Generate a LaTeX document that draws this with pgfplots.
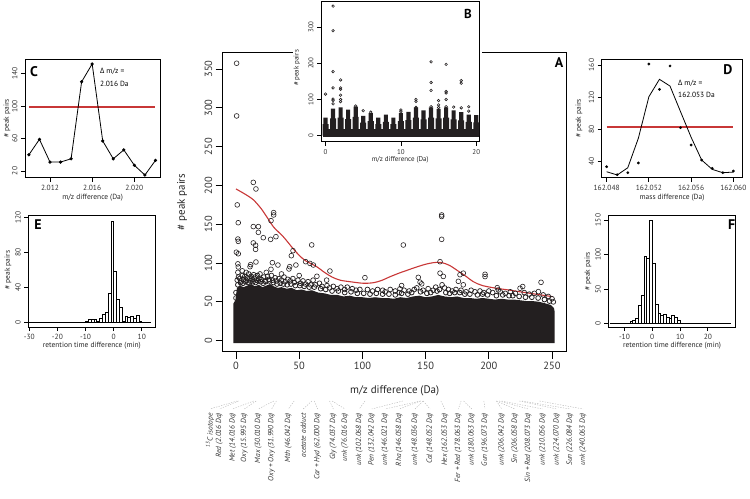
\documentclass[border=0pt]{standalone}
\usepackage{fontspec}
\setmainfont{PT Sans}
\newfontfamily\grk{Open Sans}
\usepackage{pgfplots}
\pgfplotsset{compat=1.18}
\definecolor{loess}{RGB}{200,55,55}
\definecolor{ink}{RGB}{35,31,32}
\pgfplotsset{
  rstyle/.style={scale only axis, tick align=outside, tick pos=left,
    axis line style={line width=0.8bp}, major tick style={line width=0.8bp, black},
    tick label style={font=\fontsize{7.5}{8}\selectfont, text=black!80},
    yticklabel style={rotate=90, anchor=south},
    /pgf/number format/assume math mode=true,
    label style={font=\fontsize{7.5}{8}\selectfont, text=black!85},
    xlabel style={anchor=center}, ylabel style={anchor=center, rotate=0},
    major tick length=4bp},
  lead/.style={draw=gray!60, dash pattern=on 1.3bp off 1.3bp, line width=0.4bp},
}
\newcommand{\fs}[1]{\fontsize{#1}{#1}\selectfont}
\begin{document}
\begin{tikzpicture}
\useasboundingbox (0,0) rectangle (750bp,-499bp);

% ---------- A: all m/z differences
\begin{axis}[rstyle, name=A, at={(222.7bp,-52.3bp)}, anchor=north west,
  width=344bp, height=299.4bp, clip=false,
  xmin=-10.5, xmax=261.6, ymin=-14.2, ymax=371.6,
  xtick={0,50,...,250}, ytick={0,50,...,350},
  major tick length=7bp, axis line style={line width=1bp},
  tick label style={font=\fs{10.5}},
  label style={font=\fs{11}},
  xlabel={m/z difference (Da)}, ylabel={\# peak pairs},
  xlabel style={at={(axis description cs:0.5,-0.131)}},
  ylabel style={at={(axis description cs:-0.118,0.5)}}]
% dense bulk of peak pairs
\addplot[fill=ink, draw=none] coordinates {
  (-2,-3)(-2,48)(-0.5,52)(0.8,68)(3,71)(6,69)(9,71)(12,73)(15,70)(18,72)(21,69)
  (24,71)(27,73)(30,70)(33,68)(36,69)(40,67)(44,68)(48,65)(52,66)(56,64)(60,65)
  (65,62)(70,61)(75,59)(80,59)(85,57)(90,58)(95,56)(100,56)(105,55)(110,56)
  (115,55)(120,55)(125,54)(130,56)(135,55)(140,57)(145,58)(150,56)(155,57)
  (160,59)(165,57)(170,56)(175,57)(180,55)(185,55)(190,54)(195,55)(200,54)
  (205,53)(210,54)(215,53)(220,53)(225,52)(230,51)(235,51)(240,50)(245,48)
  (249,46)(251.5,42)(252,38)(252,-3)};
% fringe of the bulk
\addplot[only marks, mark=o, mark size=2.4bp, mark options={line width=0.8bp, draw=ink}] coordinates {
  (1.5,72)(3.5,75)(5.5,74)(7.5,76)(9.5,75)(11.5,77)(13.5,76)(15.5,75)(17.5,77)(19.5,76)
  (21.5,74)(23.5,76)(26.5,77)(29.5,75)(32.5,73)(35,74)(37.5,73)(40.5,72)(43.5,73)(47,71)
  (50.5,71)(54,70)(58,69)(62,69)(67,67)(71,66)(76,64)(81,64)(86,62)(91,63)(96,61)
  (101,61)(106,60)(111,61)(116,60)(121,60)(126,59)(131,61)(136,60)(139,62)(146,63)
  (151,61)(154,62)(159,64)(161,66)(166,62)(169,61)(173,62)(177,62)(181,60)(185,60)
  (191,59)(195,60)(199,59)(206,58)(211,59)(216,58)(219,58)(224,57)(229,56)(234,56)
  (239,55)(244,53)(248,51)};
\addplot[only marks, mark=o, mark size=2.4bp, mark options={line width=0.7bp, draw=ink}] coordinates {
  (0,55)(0,62)(1,78)(2,82)(3,80)(4,77)(5,84)(6,79)(7,83)(8,78)(9,81)(10,86)(11,80)
  (12,83)(13,79)(14,85)(15,82)(16,78)(17,84)(18,80)(19,86)(20,79)(22,82)(23,77)
  (25,83)(26,79)(28,84)(29,78)(31,81)(32,77)(34,80)(36,78)(38,82)(39,76)(41,79)
  (43,77)(45,80)(46,75)(49,78)(51,74)(53,77)(55,73)(57,76)(59,72)(61,78)(63,72)
  (66,74)(68,70)(72,71)(74,68)(77,70)(80,67)(83,69)(86,66)(88,69)(92,67)(95,65)
  (98,66)(104,66)(108,64)(112,66)(116,65)(118,63)(122,66)(126,64)(129,62)(133,65)
  (137,64)(141,66)(143,68)(148,65)(152,67)(156,65)(158,69)(163,72)(165,68)(168,66)
  (171,64)(174,66)(178,65)(182,63)(186,65)(189,63)(193,64)(196,62)(200,64)(203,62)
  (209,63)(213,61)(217,63)(221,61)(228,62)(232,60)(236,61)(243,59)(247,57)(250,54)(251,50)};
% outlying peak pairs
\addplot[only marks, mark=o, mark size=2.4bp, mark options={line width=0.6bp, draw=ink}] coordinates {
  (0.5,357.5)(0.5,289.6)(1,175)(1.8,152)(1.5,131)(1.8,128)(0.3,114)(1.8,112)(1.5,99)
  (1.8,95)(1.5,88)(13.7,204)(15.8,195.5)(13.7,147)(17.7,147)(17.7,139.6)(13.7,126)
  (15.5,123)(15.5,117.7)(21.6,132.7)(15.8,101.4)(11.6,98)(11.1,95.4)(27.7,154.7)
  (29.8,165)(29.8,162)(27.4,130.6)(31.6,134)(28.8,100.5)(27.7,92)(33.2,97.5)(45.1,116)
  (43.8,109.5)(42.5,95.4)(41.9,92.4)(47.4,97.5)(55.1,101.8)(58.5,99.6)(61.2,97.5)
  (59.9,123.4)(74.3,89.8)(71.7,78)(102,81.2)(5,90)(8,88)(24,88)(36,86)(50,84)(64,83)
  (162.7,162)(162.7,160)(162.7,130.6)(132.4,123.3)(161.4,101.8)(161.4,87)(164,82.8)
  (144.2,81.6)(145.6,75.4)(146.9,73.2)(131,71)(129.7,66.8)(179.8,87)(177.2,85)
  (175.9,76.5)(179.8,72)(197,85.6)(197,82.6)(206.7,68.3)(207.5,65.3)(226.8,69.8)
  (224.7,67.6)(241.3,75.2)(239.2,63.2)};
% loess fit
\addplot[draw=loess, line width=1.1bp, smooth] coordinates {
  (0,195.5)(7,189)(13.7,181.6)(20,170)(25,158)(30,146)(37.4,134)(45,119)(50,110)
  (55,103)(63.8,95.4)(70,88)(76,82)(82.3,78)(90.2,76)(100.7,74)(108.6,74.7)(115,77.5)
  (122,82.5)(129.7,87.5)(135,90.5)(142,94.5)(150,98.5)(156,100.5)(161.4,101)(166,99)
  (170,96)(174.6,91)(181,84)(187.8,76)(195,71)(206.1,67.5)(215,65.5)(224.7,63)
  (237,60)(250.5,56.7)};
% leaders to the annotated mass differences
\addplot[lead] coordinates {(1.003,-77.7)(-20.6,-88)};
\addplot[lead] coordinates {(2.016,-77.7)(-13.2,-88)};
\addplot[lead] coordinates {(14.016,-77.7)(-2.6,-88)};
\addplot[lead] coordinates {(15.995,-77.7)(6.6,-88)};
\addplot[lead] coordinates {(30.010,-77.7)(17.6,-88)};
\addplot[lead] coordinates {(31.990,-77.7)(28.2,-88)};
\addplot[lead] coordinates {(46.042,-77.7)(41.4,-88)};
\addplot[lead] coordinates {(60.021,-77.7)(53.2,-88)};
\addplot[lead] coordinates {(62.000,-77.7)(64.6,-88)};
\addplot[lead] coordinates {(74.037,-77.7)(77.0,-88)};
\addplot[lead] coordinates {(76.016,-77.7)(86.2,-88)};
\addplot[lead] coordinates {(102.068,-77.7)(97.5,-88)};
\addplot[lead] coordinates {(132.042,-77.7)(107.4,-88)};
\addplot[lead] coordinates {(146.021,-77.7)(117.9,-88)};
\addplot[lead] coordinates {(146.058,-77.7)(129.2,-88)};
\addplot[lead] coordinates {(148.036,-77.7)(141.6,-88)};
\addplot[lead] coordinates {(148.052,-77.7)(153.5,-88)};
\addplot[lead] coordinates {(162.053,-77.7)(165.3,-88)};
\addplot[lead] coordinates {(178.063,-77.7)(175.9,-88)};
\addplot[lead] coordinates {(180.063,-77.7)(186.5,-88)};
\addplot[lead] coordinates {(196.073,-77.7)(197.0,-88)};
\addplot[lead] coordinates {(206.042,-77.7)(210.2,-88)};
\addplot[lead] coordinates {(206.058,-77.7)(220.7,-88)};
\addplot[lead] coordinates {(208.073,-77.7)(231.3,-88)};
\addplot[lead] coordinates {(210.056,-77.7)(242.6,-88)};
\addplot[lead] coordinates {(224.070,-77.7)(253.7,-88)};
\addplot[lead] coordinates {(226.084,-77.7)(264.2,-88)};
\addplot[lead] coordinates {(240.063,-77.7)(274.5,-88)};
\begin{scope}[every node/.style={rotate=90, anchor=east, inner sep=0pt, font=\fs{7.5}\itshape, text=black!80}]
\node at (axis cs:-20.6,-93) {\textsuperscript{13}C isotope};
\node at (axis cs:-13.2,-93) {Red (2.016 Da)};
\node at (axis cs:-2.6,-93) {Met (14.016 Da)};
\node at (axis cs:6.6,-93) {Oxy (15.995 Da)};
\node at (axis cs:17.6,-93) {Max (30.010 Da)};
\node at (axis cs:28.2,-93) {Oxy + Oxy (31.990 Da)};
\node at (axis cs:41.4,-93) {Mth (46.042 Da)};
\node at (axis cs:53.2,-93) {acetate adduct};
\node at (axis cs:64.6,-93) {Car + Hyd (62.000 Da)};
\node at (axis cs:77.0,-93) {Gly (74.037 Da)};
\node at (axis cs:86.2,-93) {unk (76.016 Da)};
\node at (axis cs:97.5,-93) {unk (102.068 Da)};
\node at (axis cs:107.4,-93) {Pen (132.042 Da)};
\node at (axis cs:117.9,-93) {unk (146.021 Da)};
\node at (axis cs:129.2,-93) {Rha (146.058 Da)};
\node at (axis cs:141.6,-93) {unk (148.036 Da)};
\node at (axis cs:153.5,-93) {Cal (148.052 Da)};
\node at (axis cs:165.3,-93) {Hex (162.053 Da)};
\node at (axis cs:175.9,-93) {Fer + Red (178.063 Da)};
\node at (axis cs:186.5,-93) {unk (180.063 Da)};
\node at (axis cs:197.0,-93) {Gun (196.073 Da)};
\node at (axis cs:210.2,-93) {unk (206.042 Da)};
\node at (axis cs:220.7,-93) {Sin (206.058 Da)};
\node at (axis cs:231.3,-93) {Sin + Red (208.073 Da)};
\node at (axis cs:242.6,-93) {unk (210.056 Da)};
\node at (axis cs:253.7,-93) {unk (224.070 Da)};
\node at (axis cs:264.2,-93) {Sun (226.084 Da)};
\node at (axis cs:274.5,-93) {unk (240.063 Da)};
\end{scope}
\end{axis}
\fill[white] (293bp,0bp) rectangle (481.5bp,-170bp);
\node[font=\fs{14}\bfseries] at (559bp,-63bp) {A};

% ---------- B: inset, 0-20 Da
\begin{axis}[rstyle, at={(321bp,-1bp)}, anchor=north west,
  width=158.3bp, height=140.7bp,
  xmin=-0.6, xmax=20.4, ymin=-16.6, ymax=372,
  xtick={0,10,20}, ytick={0,100,200,300},
  tick label style={font=\fs{7}}, label style={font=\fs{7}},
  xlabel={m/z difference (Da)}, ylabel={\# peak pairs},
  xlabel style={at={(axis description cs:0.5,-0.13)}},
  ylabel style={at={(axis description cs:-0.152,0.524)}}]
\addplot[fill=ink, draw=none] coordinates {(-0.35,-4)(-0.35,18)(20.35,18)(20.35,-4)};
\addplot[ybar, bar shift=0pt, bar width=0.8, fill=ink, draw=none] coordinates {
  (0,32)(1,48)(2,50)(3,46)(4,52)(5,36)(6,40)(7,32)(8,38)(9,32)(10,40)
  (11,43)(12,50)(13,45)(14,50)(15,48)(16,50)(17,45)(18,42)(19,38)(20,37)};
\addplot[ybar, bar shift=0pt, bar width=0.55, fill=ink, draw=none] coordinates {
  (0,50)(1,75)(2,78)(3,72)(4,80)(5,55)(6,62)(7,50)(8,58)(9,50)(10,62)
  (11,66)(12,78)(13,70)(14,78)(15,74)(16,78)(17,70)(18,65)(19,58)(20,57)};
\addplot[only marks, mark=o, mark size=1.3bp, mark options={line width=0.6bp, draw=ink}] coordinates {
  (0,115)(1,358)(1,290)(1,177)(1,132)(1,101)(1,97)(1,88)(2,154)(2,132)(2,128)(2,112)
  (2,100)(2,94)(4,82)(5,69)(6,65)(10,71)(10,66)(12,100)(12,95)(12,78)(12,75)(14,204)
  (14,147)(14,125)(14,80)(15,97)(15,85)(15,78)(16,197)(16,122)(16,118)(16,100)(16,80)
  (17,79)(18,152)(18,145)(18,77)(19,80)(19,68)};
\end{axis}
\node[font=\fs{13}\bfseries] at (468bp,-14bp) {B};

% ---------- C: 2.016 Da
% x in mDa above 2 Da (10 = 2.010 Da)
\begin{axis}[rstyle, at={(25bp,-59bp)}, anchor=north west,
  width=135.3bp, height=118.7bp,
  xmin=9.63, xmax=22.46, ymin=11.7, ymax=158.1,
  xtick={12,16,20}, xticklabels={2.012,2.016,2.020}, ytick={20,60,100,140},
  xlabel={m/z difference (Da)}, ylabel={\# peak pairs},
  xlabel style={at={(axis description cs:0.5,-0.171)}},
  ylabel style={at={(axis description cs:-0.133,0.5)}}]
\addplot[draw=loess, line width=1.3bp] coordinates {(10,99)(22,99)};
\addplot[black, line width=0.8bp, mark=*, mark size=1.2bp] coordinates {
  (10,40)(11,59)(12,31)(13,31)(14,35)(15,130)(16,152)(17,57)(18,35)(19,46)(20,27)(21,15)(22,33)};
\end{axis}
\node[font=\fs{14}\bfseries] at (34bp,-72bp) {C};
\node[anchor=west, font=\fs{7.5}, inner sep=0pt] at (100bp,-71bp) {{\grk Δ} m/z =};
\node[anchor=west, font=\fs{7.5}, inner sep=0pt] at (100bp,-83.5bp) {2.016 Da};

% ---------- D: 162.053 Da
% x in mDa above 162 Da (48 = 162.048 Da)
\begin{axis}[rstyle, at={(601.7bp,-59bp)}, anchor=north west,
  width=140.6bp, height=118.7bp,
  xmin=47.53, xmax=60.85, ymin=19.6, ymax=167.5,
  xtick={48,52,56,60}, xticklabels={162.048,162.052,162.056,162.060}, ytick={40,80,120,160},
  xlabel={mass difference (Da)}, ylabel={\# peak pairs},
  xlabel style={at={(axis description cs:0.5,-0.171)}},
  ylabel style={at={(axis description cs:-0.161,0.5)}}]
\addplot[draw=loess, line width=1.6bp] coordinates {(48,82.4)(60,82.4)};
\addplot[black, line width=0.8bp] coordinates {
  (48,27)(49,23)(50,32)(51,68.7)(52,120.5)(53,142.2)(54,133.8)(55,101.8)(56,70)(57,41.6)(58,30)(59,25.8)(60,26.6)};
\addplot[only marks, mark=*, mark size=1.2bp, black] coordinates {
  (48,33.3)(49,23.3)(50,25.8)(51,38)(52,161.2)(53,129.7)(54,158.8)(55,81.9)(56,60.3)(57,41.6)(58,31.3)(59,25.8)(60,27.9)};
\end{axis}
\node[font=\fs{14}\bfseries] at (728bp,-70bp) {D};
\node[anchor=west, font=\fs{7.5}, inner sep=0pt] at (678bp,-83bp) {{\grk Δ} m/z =};
\node[anchor=west, font=\fs{7.5}, inner sep=0pt] at (678bp,-95bp) {162.053 Da};

% ---------- E: retention time differences, 2.016 Da
\begin{axis}[rstyle, at={(28.3bp,-215bp)}, anchor=north west,
  width=127bp, height=112bp,
  xmin=-30.35, xmax=14.8, ymin=-4.8, ymax=122.6,
  xtick={-30,-20,-10,0,10}, ytick={0,40,80,120},
  xlabel={retention time difference (min)}, ylabel={\# peak pairs},
  xlabel style={at={(axis description cs:0.5,-0.167)}},
  ylabel style={at={(axis description cs:-0.16,0.509)}}]
\addplot[ybar interval, fill=white, draw=black, line width=0.6bp] coordinates {
  (-30,1)(-29,0)(-28,0)(-27,0)(-26,0)(-25,0)(-24,0)(-23,0)(-22,0)(-21,0)(-20,0)
  (-19,0)(-18,0)(-17,0)(-16,0)(-15,0)(-14,0)(-13,0)(-12,0)(-11,1)(-10,2)(-9,4)
  (-8,4)(-7,4)(-6,2)(-5,5)(-4,10)(-3,12)(-2,34)(-1,116)(0,58)(1,27)(2,18)(3,2)
  (4,7)(5,6)(6,7)(7,5)(8,8)(9,2)(10,1)(11,1)(12,1)(13,0)};
\end{axis}
\node[font=\fs{14}\bfseries] at (38bp,-225bp) {E};

% ---------- F: retention time differences, 162.053 Da
\begin{axis}[rstyle, at={(608.3bp,-215.7bp)}, anchor=north west,
  width=127.4bp, height=111.3bp,
  xmin=-15.8, xmax=30, ymin=-5, ymax=156.2,
  xtick={-10,0,10,20}, ytick={0,50,100,150},
  xlabel={retention time difference (min)}, ylabel={\# peak pairs},
  xlabel style={at={(axis description cs:0.5,-0.168)}},
  ylabel style={at={(axis description cs:-0.159,0.5)}}]
\addplot[ybar interval, fill=white, draw=black, line width=0.6bp] coordinates {
  (-15,1)(-14,0)(-13,0)(-12,0)(-11,0)(-10,0)(-9,1)(-8,3)(-7,5)(-6,8)(-5,27)(-4,41)
  (-3,98)(-2,95)(-1,150)(0,87)(1,28)(2,15)(3,12)(4,14)(5,9)(6,7)(7,12)(8,9)(9,4)
  (10,1)(11,0)(12,0)(13,0)(14,0)(15,0)(16,0)(17,0)(18,0)(19,0)(20,0)(21,0)(22,0)
  (23,0)(24,0)(25,0)(26,0)(27,1)(28,0)};
\end{axis}
\node[font=\fs{14}\bfseries] at (731.7bp,-225bp) {F};
\end{tikzpicture}
\end{document}
